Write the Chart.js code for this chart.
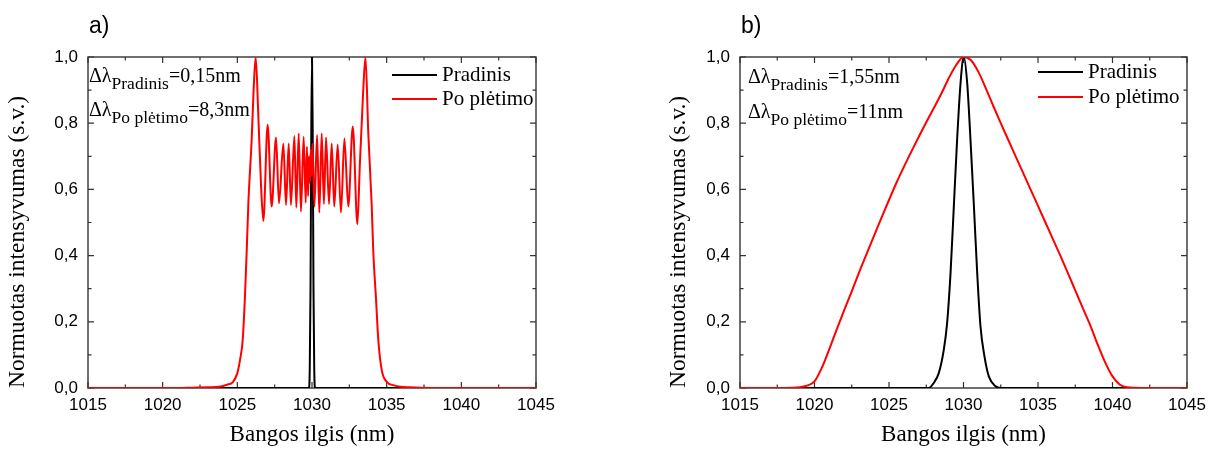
<!DOCTYPE html>
<html>
<head>
<meta charset="utf-8">
<script src="https://cdn.jsdelivr.net/npm/chart.js@4.4.0/dist/chart.umd.min.js"></script>
<style>
  body { margin: 0; background: #fff; }
  #wrap { position: relative; width: 1219px; height: 450px; }
  canvas { position: absolute; top: 0; }
  #chartA { left: 0; }
  #chartB { left: 609px; }
</style>
</head>
<body>
<div id="wrap">
  <canvas id="chartA" width="609" height="450"></canvas>
  <canvas id="chartB" width="610" height="450"></canvas>
</div>
<script>
// Tick values and labels
const xTicks = [1015, 1020, 1025, 1030, 1035, 1040, 1045];
const yTicks = [0, 0.2, 0.4, 0.6, 0.8, 1.0];
const seriesLabels = ['Pradinis', 'Po plėtimo'];
const panelLabels = ['a)', 'b)'];
const subLabels = ['Pradinis', 'Po plėtimo'];
const widthsA = ['=0,15nm', '=8,3nm'];
const widthsB = ['=1,55nm', '=11nm'];
const xTitle = 'Bangos ilgis (nm)';
const yTitle = 'Normuotas intensyvumas (s.v.)';

// Panel a) - initial spectrum (black)
const aPradinisX = [1015, 1029.8, 1029.85, 1029.9, 1029.95, 1030.0, 1030.05, 1030.1, 1030.15, 1030.2, 1045];
const aPradinisY = [0, 0, 0.06, 0.3, 0.75, 1.0, 0.75, 0.3, 0.06, 0, 0];

// Panel a) - broadened spectrum (red)
const aPlatusX = [1015, 1021, 1022, 1023, 1023.8, 1024.3, 1024.7, 1025.0, 1025.2, 1025.36, 1025.51, 1025.63,
  1025.74, 1025.96, 1026.09, 1026.23, 1026.4, 1026.58, 1026.74, 1027.03, 1027.30, 1027.59, 1027.79,
  1028.08, 1028.26, 1028.44, 1028.59, 1028.82, 1028.95, 1029.11, 1029.26, 1029.44, 1029.58, 1029.66,
  1029.74, 1029.8, 1029.86, 1029.92, 1029.97, 1030.03, 1030.16, 1030.34, 1030.49, 1030.65, 1030.8,
  1030.94, 1031.14, 1031.32, 1031.49, 1031.72, 1031.94, 1032.17, 1032.43, 1032.73, 1033.04, 1033.2,
  1033.4, 1033.58, 1033.77, 1034.0, 1034.1, 1034.29, 1034.44, 1034.67, 1035.0, 1035.5, 1035.9, 1036.5,
  1038, 1045];
const aPlatusY = [0, 0, 0.001, 0.002, 0.004, 0.01, 0.018, 0.045, 0.09, 0.145, 0.276, 0.417,
  0.56, 0.75, 0.9, 1.0, 0.83, 0.62, 0.505, 0.795, 0.548, 0.757, 0.558,
  0.739, 0.553, 0.739, 0.553, 0.761, 0.545, 0.769, 0.533, 0.759, 0.56, 0.729,
  0.58, 0.70, 0.62, 0.72, 0.64, 0.739, 0.548, 0.764, 0.53, 0.769, 0.556,
  0.757, 0.556, 0.739, 0.548, 0.736, 0.53, 0.754, 0.548, 0.79, 0.495, 0.67,
  0.87, 1.0, 0.77, 0.55, 0.417, 0.266, 0.145, 0.054, 0.019, 0.008, 0.004, 0.002,
  0, 0];

// Panel b) - initial spectrum (black)
const bPradinisX = [1015, 1027.67, 1028.0, 1028.34, 1028.68, 1028.9, 1029.13, 1029.35, 1029.57, 1029.8, 1030.02,
  1030.25, 1030.47, 1030.7, 1030.92, 1031.14, 1031.41, 1031.7, 1032.15, 1032.5, 1045];
const bPradinisY = [0, 0, 0.015, 0.045, 0.116, 0.196, 0.347, 0.548, 0.749, 0.92, 1.0,
  0.92, 0.749, 0.548, 0.347, 0.186, 0.095, 0.035, 0.005, 0, 0];

// Panel b) - broadened spectrum (red)
const bPlatusX = [1015, 1018, 1019, 1019.5, 1020, 1020.5, 1021, 1021.5, 1022, 1022.5, 1023, 1023.5, 1024, 1024.5,
  1025, 1025.5, 1026, 1026.5, 1027, 1027.5, 1028, 1028.5, 1029, 1029.5, 1030, 1030.5, 1031, 1031.5,
  1032, 1032.5, 1033, 1033.5, 1034, 1034.5, 1035, 1035.5, 1036, 1036.5, 1037, 1037.5, 1038, 1038.5,
  1039, 1039.5, 1040, 1040.5, 1041, 1042, 1045];
const bPlatusY = [0, 0, 0.002, 0.007, 0.02, 0.062, 0.118, 0.178, 0.236, 0.292, 0.35, 0.405, 0.46, 0.515,
  0.568, 0.62, 0.668, 0.714, 0.759, 0.803, 0.845, 0.888, 0.935, 0.975, 1.0, 0.99, 0.955, 0.905,
  0.852, 0.80, 0.75, 0.70, 0.65, 0.60, 0.55, 0.50, 0.45, 0.40, 0.348, 0.295, 0.242, 0.19,
  0.132, 0.078, 0.035, 0.01, 0.002, 0, 0];

const toPoints = (xs, ys) => xs.map((x, i) => ({ x: x, y: ys[i] }));

// Frame, inward ticks on all four sides, legend and annotations
const decorPlugin = {
  id: 'decor',
  beforeDatasetsDraw(chart) {
    const ctx = chart.ctx;
    const a = chart.chartArea;
    const xs = chart.scales.x, ys = chart.scales.y;
    ctx.save();
    ctx.strokeStyle = '#333';
    ctx.lineWidth = 1.4;
    ctx.strokeRect(a.left, a.top, a.right - a.left, a.bottom - a.top);
    ctx.lineWidth = 1.2;
    ctx.beginPath();
    for (let i = 0; i < xTicks.length; i++) {
      const px = xs.getPixelForValue(xTicks[i]);
      ctx.moveTo(px, a.bottom); ctx.lineTo(px, a.bottom - 6);
      ctx.moveTo(px, a.top); ctx.lineTo(px, a.top + 6);
      if (i < xTicks.length - 1) {
        const pm = xs.getPixelForValue((xTicks[i] + xTicks[i + 1]) / 2);
        ctx.moveTo(pm, a.bottom); ctx.lineTo(pm, a.bottom - 3.5);
        ctx.moveTo(pm, a.top); ctx.lineTo(pm, a.top + 3.5);
      }
    }
    for (let i = 0; i < yTicks.length; i++) {
      const py = ys.getPixelForValue(yTicks[i]);
      ctx.moveTo(a.left, py); ctx.lineTo(a.left + 6, py);
      ctx.moveTo(a.right, py); ctx.lineTo(a.right - 6, py);
      if (i < yTicks.length - 1) {
        const pm = ys.getPixelForValue((yTicks[i] + yTicks[i + 1]) / 2);
        ctx.moveTo(a.left, pm); ctx.lineTo(a.left + 3.5, pm);
        ctx.moveTo(a.right, pm); ctx.lineTo(a.right - 3.5, pm);
      }
    }
    ctx.stroke();
    ctx.restore();
  },
  afterDatasetsDraw(chart, args, opts) {
    const ctx = chart.ctx;
    const a = chart.chartArea;
    ctx.save();
    ctx.fillStyle = '#000';

    // panel letter
    ctx.font = '23px "Liberation Sans", Arial, sans-serif';
    ctx.textBaseline = 'alphabetic';
    ctx.textAlign = 'left';
    ctx.fillText(opts.letter, a.left + 1, 33);

    // spectral widths
    for (let i = 0; i < 2; i++) {
      let x = a.left + opts.annoX;
      const base = opts.annoY[i];
      ctx.font = '20px "Liberation Serif", "Times New Roman", serif';
      ctx.fillText('Δλ', x, base);
      x += ctx.measureText('Δλ').width;
      ctx.font = '17.5px "Liberation Serif", "Times New Roman", serif';
      ctx.fillText(subLabels[i], x, base + 7);
      x += ctx.measureText(subLabels[i]).width;
      ctx.font = '20px "Liberation Serif", "Times New Roman", serif';
      ctx.fillText(opts.widths[i], x, base);
    }

    // legend
    ctx.font = '21px "Liberation Serif", "Times New Roman", serif';
    ctx.textBaseline = 'middle';
    chart.data.datasets.forEach((ds, i) => {
      const y = opts.legY[i];
      ctx.strokeStyle = ds.borderColor;
      ctx.lineWidth = 2;
      ctx.beginPath();
      ctx.moveTo(a.right - opts.legX[0], y);
      ctx.lineTo(a.right - opts.legX[1], y);
      ctx.stroke();
      ctx.fillText(ds.label, a.right - opts.legX[1] + 5, y);
    });
    ctx.restore();
  }
};

function makeChart(id, pradinis, platus, cfg) {
  return new Chart(document.getElementById(id), {
    type: 'line',
    data: {
      datasets: [
        { label: seriesLabels[0], data: pradinis, borderColor: '#000000', order: 1 },
        { label: seriesLabels[1], data: platus, borderColor: '#ff0000', order: 0 }
      ]
    },
    options: {
      responsive: false,
      animation: false,
      layout: { padding: { top: 57, right: cfg.padRight, left: 0, bottom: 0 } },
      elements: {
        point: { radius: 0 },
        line: { borderWidth: 2, cubicInterpolationMode: 'monotone' }
      },
      plugins: {
        legend: { display: false },
        tooltip: { enabled: false },
        decor: cfg.decor
      },
      scales: {
        x: {
          type: 'linear',
          min: 1015,
          max: 1045,
          afterBuildTicks: s => { s.ticks = xTicks.map(v => ({ value: v })); },
          afterFit: s => { s.height = 62; },
          grid: { display: false, drawTicks: false },
          border: { display: false },
          ticks: {
            color: '#000',
            padding: 7,
            maxRotation: 0,
            autoSkip: false,
            callback: v => String(v),
            font: { family: '"Liberation Sans", Arial, sans-serif', size: 17 }
          },
          title: {
            display: true,
            text: xTitle,
            color: '#000',
            padding: { top: 0, bottom: 1 },
            font: { family: '"Liberation Serif", "Times New Roman", serif', size: 23 }
          }
        },
        y: {
          type: 'linear',
          min: 0,
          max: 1,
          afterBuildTicks: s => { s.ticks = yTicks.map(v => ({ value: v })); },
          afterFit: s => { s.width = cfg.yWidth; },
          grid: { display: false, drawTicks: false },
          border: { display: false },
          ticks: {
            color: '#000',
            padding: 10,
            callback: v => v.toFixed(1).replace('.', ','),
            font: { family: '"Liberation Sans", Arial, sans-serif', size: 17 }
          },
          title: {
            display: true,
            text: yTitle,
            color: '#000',
            align: 'start',
            padding: { top: cfg.yTitlePad, bottom: 0 },
            font: { family: '"Liberation Serif", "Times New Roman", serif', size: 23.5 }
          }
        }
      }
    },
    plugins: [decorPlugin]
  });
}

makeChart('chartA', toPoints(aPradinisX, aPradinisY), toPoints(aPlatusX, aPlatusY), {
  padRight: 73, yWidth: 88, yTitlePad: 4,
  decor: { letter: panelLabels[0], annoX: 1, annoY: [82, 116], widths: widthsA, legX: [144, 99], legY: [75, 99] }
});

makeChart('chartB', toPoints(bPradinisX, bPradinisY), toPoints(bPlatusX, bPlatusY), {
  padRight: 32, yWidth: 131, yTitlePad: 56,
  decor: { letter: panelLabels[1], annoX: 8, annoY: [83, 118], widths: widthsB, legX: [149, 104], legY: [72, 97] }
});
</script>
</body>
</html>
